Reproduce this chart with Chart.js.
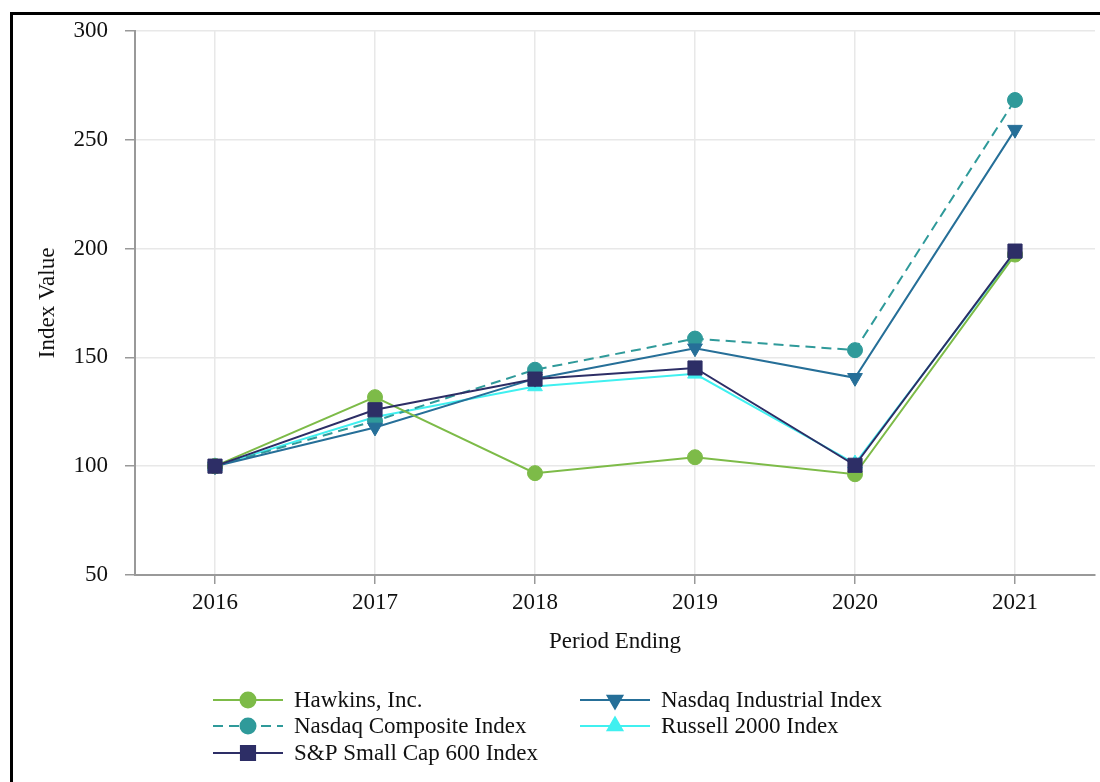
<!DOCTYPE html>
<html>
<head>
<meta charset="utf-8">
<title>Index Value</title>
<script src="https://cdn.jsdelivr.net/npm/chart.js@4.4.1/dist/chart.umd.min.js"></script>
<style>
  html, body { margin: 0; padding: 0; background: #fff; overflow: hidden; }
  #wrap { position: relative; width: 1100px; height: 782px; }
  #frame {
    position: absolute; left: 10px; top: 12px; width: 1200px; height: 900px;
    border-left: 3px solid #000; border-top: 3px solid #000;
  }
  #chart { position: absolute; left: 0; top: 0; }
</style>
</head>
<body>
<div id="wrap">
  <div id="frame"></div>
  <canvas id="chart" width="1100" height="782"></canvas>
</div>
<script>
// data
const years = ['2016', '2017', '2018', '2019', '2020', '2021'];
const hawkins = [100, 131.7, 96.8, 104.1, 96.3, 197.2];
const nasdaqIndustrial = [100, 117.8, 140.2, 154.2, 140.6, 254.6];
const nasdaqComposite = [100, 120.8, 144.3, 158.6, 153.3, 268.2];
const russell2000 = [100, 122.6, 136.6, 142.4, 101.2, 198.0];
const sp600 = [100, 125.9, 140.0, 145.1, 100.4, 198.8];
const yTicks = [50, 100, 150, 200, 250, 300];

const serif = '"Liberation Serif", "Times New Roman", serif';

function serie(label, data, color, style, extra) {
    return Object.assign({
        label: label,
        data: data,
        borderColor: color,
        backgroundColor: color,
        pointBackgroundColor: color,
        pointBorderColor: color,
        borderWidth: 2,
        pointBorderWidth: 1,
        pointStyle: style,
        pointRadius: 7.5,
        pointHoverRadius: 7.5,
        tension: 0,
        fill: false,
        order: 2
    }, extra || {});
}

// legend is laid out in two columns, row by row, like the original
const legendPlugin = {
    id: 'twoColLegend',
    afterDraw(chart) {
        const ctx = chart.ctx;
        const cols = [213, 580];
        const rows = [700, 726, 753];
        chart.data.datasets.forEach((ds, i) => {
            const x = cols[i % 2];
            const y = rows[Math.floor(i / 2)];
            ctx.save();
            ctx.strokeStyle = ds.borderColor;
            ctx.lineWidth = 2;
            ctx.setLineDash(ds.borderDash || []);
            ctx.beginPath();
            ctx.moveTo(x, y);
            ctx.lineTo(x + 70, y);
            ctx.stroke();
            ctx.setLineDash([]);
            Chart.helpers.drawPoint(ctx, {
                pointStyle: ds.pointStyle,
                radius: ds.pointRadius,
                rotation: ds.pointRotation || 0,
                borderWidth: 1
            }, x + 35, y);
            ctx.fillStyle = ds.backgroundColor;
            ctx.fill();
            ctx.fillStyle = '#111';
            ctx.font = '23px ' + serif;
            ctx.textBaseline = 'middle';
            ctx.textAlign = 'left';
            ctx.fillText(ds.label, x + 81, y + 1);
            ctx.restore();
        });
    }
};

const ctx = document.getElementById('chart').getContext('2d');
new Chart(ctx, {
    type: 'line',
    data: {
        labels: years,
        datasets: [
            serie('Hawkins, Inc.', hawkins, '#7dbb48', 'circle'),
            serie('Nasdaq Industrial Index', nasdaqIndustrial, '#266f98', 'triangle', { pointRotation: 180, pointRadius: 8.5, pointHoverRadius: 8.5 }),
            serie('Nasdaq Composite Index', nasdaqComposite, '#2f9a9a', 'circle', { borderDash: [10, 6] }),
            serie('Russell 2000 Index', russell2000, '#40f0f0', 'triangle', { pointRadius: 8.5, pointHoverRadius: 8.5 }),
            serie('S&P Small Cap 600 Index', sp600, '#2d2e66', 'rect', { pointRadius: 10, pointHoverRadius: 10, order: 1 })
        ]
    },
    options: {
        responsive: false,
        animation: false,
        layout: { autoPadding: false, padding: { left: 0, top: 30, right: 5, bottom: 117 } },
        plugins: {
            legend: { display: false },
            tooltip: { enabled: false }
        },
        scales: {
            x: {
                offset: true,
                grid: { color: '#e8e8e8', lineWidth: 1.5, tickColor: '#999', tickLength: 9 },
                border: { color: '#999', width: 2 },
                ticks: { color: '#111', font: { family: serif, size: 23 }, padding: 5 },
                title: { display: true, text: 'Period Ending', color: '#111', font: { family: serif, size: 23 }, padding: { top: 0, bottom: 9 } },
                afterFit(scale) {
                    scale.height = 90;
                    scale.paddingLeft = 0;
                    scale.paddingRight = 0;
                }
            },
            y: {
                min: yTicks[0],
                max: yTicks[yTicks.length - 1],
                afterBuildTicks(scale) { scale.ticks = yTicks.map(v => ({ value: v })); },
                grid: { color: '#e8e8e8', lineWidth: 1.5, tickColor: '#999', tickLength: 10 },
                border: { color: '#999', width: 2 },
                ticks: { color: '#111', font: { family: serif, size: 23 }, padding: 17 },
                title: { display: true, text: 'Index Value', color: '#111', font: { family: serif, size: 23 }, padding: { top: 34, bottom: 0 } },
                afterFit(scale) { scale.width = 135; }
            }
        }
    },
    plugins: [legendPlugin]
});
</script>
</body>
</html>
